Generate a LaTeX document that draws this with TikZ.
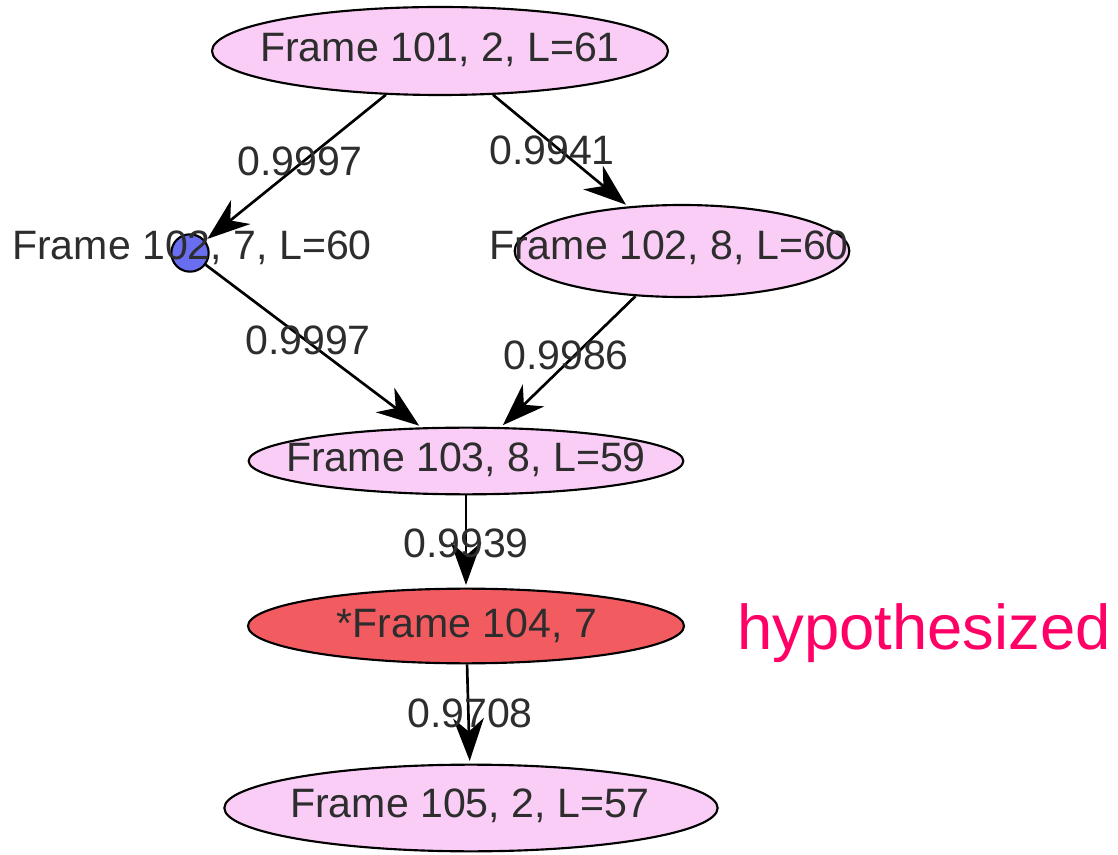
\documentclass[tikz,border=0pt]{standalone}
\usepackage{fontspec}
\setmainfont{Liberation Sans}
\usetikzlibrary{arrows.meta}
\usetikzlibrary{shapes.geometric}

\definecolor{framepink}{RGB}{250,205,246}
\definecolor{framered}{RGB}{242,92,96}
\definecolor{frameblue}{RGB}{105,110,240}
\definecolor{hypopink}{RGB}{255,0,102}
\definecolor{labelgray}{RGB}{45,45,45}

\begin{document}
\begin{tikzpicture}[x=0.75pt, y=-0.75pt]
		\tikzset{frame/.style={shape = ellipse, draw, line width = 1.6pt, inner sep = 0pt}}
		\tikzset{blob/.style={shape = circle, draw, fill = frameblue, line width = 1.6pt, inner sep = 0pt, minimum size = 28pt}}
		\tikzset{txt/.style={font = \fontsize{30.8}{32}\selectfont, text = labelgray, inner sep = 0pt}}
		\tikzset{edge/.style={-{Stealth[length = 32pt, width = 23pt, inset = 10pt]}, line width = 2pt, shorten > = 2pt}}
		\useasboundingbox (0, 0) rectangle (1118, 855);
		%vertices
		\node[frame, fill = framepink, minimum width = 342pt, minimum height = 66pt] (f101) at (440, 51) {};
		\node[blob] (f102a) at (190, 253) {};
		\node[frame, fill = framepink, minimum width = 251pt, minimum height = 69pt] (f102b) at (682, 251) {};
		\node[frame, fill = framepink, minimum width = 326pt, minimum height = 50pt] (f103) at (466, 461) {};
		\node[frame, fill = framered, minimum width = 327pt, minimum height = 56pt] (f104) at (466, 626) {};
		\node[frame, fill = framepink, minimum width = 370pt, minimum height = 65pt] (f105) at (471, 808) {};
		%labels
		\node[txt] (l101) at (440, 50) {Frame 101, 2, L=61};
		\node[txt] (l102a) at (192, 248) {Frame 102, 7, L=60};
		\node[txt] (l102b) at (669, 248) {Frame 102, 8, L=60};
		\node[txt] (l103) at (466, 460) {Frame 103, 8, L=59};
		\node[txt] (l104) at (467, 626) {*Frame 104, 7};
		\node[txt] (l105) at (470, 806) {Frame 105, 2, L=57};
		\node[font = \fontsize{47.5}{50}\selectfont, text = hypopink, inner sep = 0pt] (hypo) at (924, 633) {hypothesized};
		%edges
		\draw[edge] (f101) -- (f102a);
		\draw[edge] (f101) -- (f102b);
		\draw[edge] (f102a) -- (f103);
		\draw[edge] (f102b) -- (f103);
		\draw[edge] (f103) -- (f104);
		\draw[edge] (f104) -- (f105);
		%weights
		\node[txt] (w1) at (300, 161) {0.9997};
		\node[txt] (w2) at (552, 150) {0.9941};
		\node[txt] (w3) at (308, 340) {0.9997};
		\node[txt] (w4) at (566, 355) {0.9986};
		\node[txt] (w5) at (466, 543) {0.9939};
		\node[txt] (w6) at (470, 713) {0.9708};
\end{tikzpicture}
\end{document}
